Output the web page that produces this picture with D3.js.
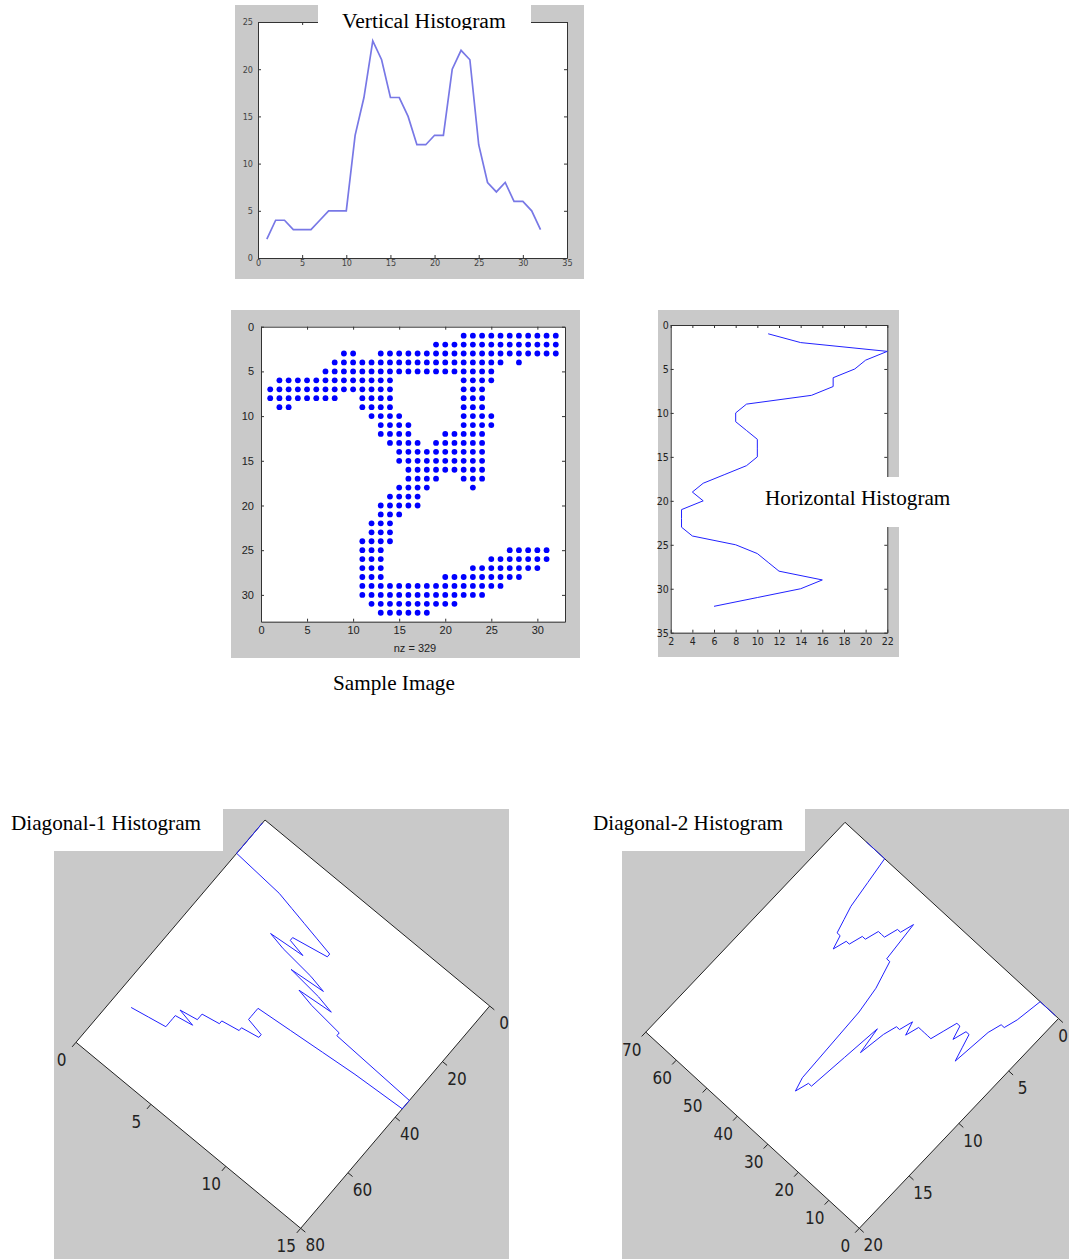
<!DOCTYPE html>
<html>
<head>
<meta charset="utf-8">
<script src="https://cdn.jsdelivr.net/npm/d3@7"></script>
<style>
body { margin: 0; background: #fff; }
svg { display: block; }
</style>
</head>
<body>
<script>
// column sums of the sample image (x = 1..32)
var vertHist = [2,4,4,3,3,3,4,5,5,5,13,17,23,21,17,17,15,12,12,13,13,20,22,21,12,8,7,8,6,6,5,3]
// row sums (y = 1..32)
var horizHist = [11,14,22,20,19,17,17,15,9,8,8,9,10,10,10,9,7,5,4,5,3,3,3,4,8,10,11,12,16,14,10,6]
// diagonal sums, index 1..63
var diag1Hist = [0,0,0,0,0,0,0,0,0,0,0,0,
  3,4,5,6,7,7,6,5,5,6, 4,5,7,8,6,8,9,7,8,10, 10,15,15,15,15,12,10,8,6,6,
  6,6,6,7,7,6,6,5,5,4, 4,4,3,4,3,3,3,3,3,2,1]
var diag2Hist = [0,0,0,0,0,0,
  2,3,3,4,7,6,5,5,6,5, 5,6,7,7,7,7,7,8,7,8, 8,9,11,9,12,15,15,16,15,9,
  7,6,5,5,2,3,3,4,4,4, 5,5,6,6,7,6,6,5,4,2,
  0,0,0,0,0,0,0]
// sample image: filled column runs for each row 1..32
var imgRuns = [
  [[22,32]],
  [[19,32]],
  [[9,10],[13,32]],
  [[8,26],[28,28]],
  [[7,25]],
  [[2,14],[22,25]],
  [[1,14],[22,24]],
  [[1,8],[11,14],[22,24]],
  [[2,3],[11,14],[22,24]],
  [[12,15],[22,25]],
  [[13,16],[22,25]],
  [[13,16],[20,24]],
  [[14,17],[19,24]],
  [[15,24]],
  [[15,24]],
  [[16,24]],
  [[16,19],[22,24]],
  [[15,18],[23,23]],
  [[14,17]],
  [[13,17]],
  [[13,15]],
  [[12,14]],
  [[12,14]],
  [[11,14]],
  [[11,13],[27,31]],
  [[11,13],[25,31]],
  [[11,13],[23,30]],
  [[11,13],[20,28]],
  [[11,26]],
  [[11,24]],
  [[12,21]],
  [[13,18]]
]
var nzCount = 329

var vertXTicks = [0,5,10,15,20,25,30,35]
var vertYTicks = [0,5,10,15,20,25]
var imgTicks = [0,5,10,15,20,25,30]
var horXTicks = [2,4,6,8,10,12,14,16,18,20,22]
var horYTicks = [0,5,10,15,20,25,30,35]
var d1IdxTicks = [0,20,40,60,80]
var d1ValTicks = [0,5,10,15]
var d2IdxTicks = [0,10,20,30,40,50,60,70]
var d2ValTicks = [0,5,10,15,20]

var grey = "#c9c9c9"
var serif = "'Liberation Serif','Times New Roman',serif"
var narrow = "'Liberation Sans Narrow','Arial Narrow','DejaVu Sans Condensed',sans-serif"

var svg = d3.select("body").append("svg")
  .attr("width", 1069)
  .attr("height", 1259)

// matlab-like boxed axes with inward ticks
function boxAxes(g, x, y, xt, yt, font, xpad, ypad) {
  var r = x.range(), t = y.range()
  g.append("rect").attr("x", r[0]).attr("y", Math.min(t[0], t[1]))
    .attr("width", r[1]-r[0]).attr("height", Math.abs(t[1]-t[0]))
    .style("fill", "white")
  var yb = Math.max(t[0], t[1]), yt0 = Math.min(t[0], t[1])
  var axes = [
    g.append("g").attr("transform", "translate(0," + yb + ")")
      .call(d3.axisBottom(x).tickValues(xt).tickSize(-3).tickSizeOuter(0).tickPadding(xpad)),
    g.append("g").attr("transform", "translate(0," + yt0 + ")")
      .call(d3.axisTop(x).tickValues(xt).tickSize(-3).tickSizeOuter(0).tickFormat("")),
    g.append("g").attr("transform", "translate(" + r[0] + ",0)")
      .call(d3.axisLeft(y).tickValues(yt).tickSize(-3).tickSizeOuter(0).tickPadding(ypad)),
    g.append("g").attr("transform", "translate(" + r[1] + ",0)")
      .call(d3.axisRight(y).tickValues(yt).tickSize(-3).tickSizeOuter(0).tickFormat(""))
  ]
  axes.forEach(function(a) {
    a.select(".domain").style("stroke", "#333")
    a.selectAll(".tick line").style("stroke", "#333")
    a.selectAll("text").style("font-family", font.family).style("font-size", font.size + "px")
      .style("fill", font.color)
  })
}

// ---- vertical histogram
svg.append("rect").attr("x", 235).attr("y", 5).attr("width", 349).attr("height", 274).style("fill", grey)
var x1 = d3.scaleLinear().domain([0,35]).range([258,567])
var y1 = d3.scaleLinear().domain([0,25]).range([258,22])
var p1 = svg.append("g")
boxAxes(p1, x1, y1, vertXTicks, vertYTicks, {family: narrow, size: 9, color: "#444"}, 2, 5)
p1.append("path")
  .datum(vertHist)
  .attr("d", d3.line().x(function(d, i) { return x1(i+1) }).y(function(d) { return y1(d) }))
  .style("fill", "none").style("stroke", "#7878e6").style("stroke-width", 1.7)
svg.append("defs").append("clipPath").attr("id", "vclip")
  .append("rect").attr("x", 318).attr("y", 5).attr("width", 213).attr("height", 25)
svg.append("rect").attr("x", 318).attr("y", 5).attr("width", 213).attr("height", 25).style("fill", "white")
svg.append("text").attr("x", 342).attr("y", 27.5).attr("clip-path", "url(#vclip)")
  .style("font-family", serif).style("font-size", "21.6px").text("Vertical Histogram")

// ---- sample image
svg.append("rect").attr("x", 231).attr("y", 310).attr("width", 349).attr("height", 348).style("fill", grey)
var x2 = d3.scaleLinear().domain([0,33]).range([261,565])
var y2 = d3.scaleLinear().domain([0,33]).range([326.7,621.7])
var p2 = svg.append("g")
boxAxes(p2, x2, y2, imgTicks, imgTicks, {family: "'Liberation Sans',Arial,sans-serif", size: 11, color: "#222"}, 5, 7)
var pix = []
imgRuns.forEach(function(row, r) {
  row.forEach(function(run) {
    for (var c = run[0]; c <= run[1]; c++) pix.push([c, r+1])
  })
})
p2.append("g").selectAll("circle")
  .data(pix)
  .enter()
  .append("circle")
  .attr("cx", function(d) { return x2(d[0]) })
  .attr("cy", function(d) { return y2(d[1]) })
  .attr("r", 2.9)
  .style("fill", "#0000ff")
svg.append("text").attr("x", (x2.range()[0]+x2.range()[1])/2 + 2).attr("y", 652)
  .attr("text-anchor", "middle")
  .style("font-family", "'Liberation Sans',Arial,sans-serif").style("font-size", "11px").style("fill", "#222")
  .text("nz = " + nzCount)
svg.append("text").attr("x", 333).attr("y", 690)
  .style("font-family", serif).style("font-size", "21.2px").text("Sample Image")

// ---- horizontal histogram
svg.append("rect").attr("x", 658).attr("y", 310).attr("width", 241).attr("height", 347).style("fill", grey)
var x3 = d3.scaleLinear().domain([2,22]).range([670.7,887.3])
var y3 = d3.scaleLinear().domain([0,35]).range([325,632.7])
var p3 = svg.append("g")
boxAxes(p3, x3, y3, horXTicks, horYTicks, {family: narrow, size: 10.5, color: "#222"}, 5, 2)
p3.append("path")
  .datum(horizHist)
  .attr("d", d3.line().x(function(d) { return x3(d) }).y(function(d, i) { return y3(i+1) }))
  .style("fill", "none").style("stroke", "#2222ff").style("stroke-width", 1)
svg.append("rect").attr("x", 760).attr("y", 477).attr("width", 198).attr("height", 50).style("fill", "white")
svg.append("text").attr("x", 765).attr("y", 505)
  .style("font-family", serif).style("font-size", "21.2px").text("Horizontal Histogram")

// ---- rotated diagonal plots
function diagPlot(cfg) {
  var g = svg.append("g")
  var si = d3.scaleLinear().domain(cfg.idxDom).range([0,1])
  var sv = d3.scaleLinear().domain(cfg.valDom).range([0,1])
  function proj(i, v) {
    var a = si(i), b = sv(v)
    return [cfg.o[0] + a*cfg.vi[0] + b*cfg.vv[0], cfg.o[1] + a*cfg.vi[1] + b*cfg.vv[1]]
  }
  function unit(v, s) {
    var l = Math.sqrt(v[0]*v[0] + v[1]*v[1])
    return [s*v[0]/l, s*v[1]/l]
  }
  var i0 = cfg.idxDom[0], i1 = cfg.idxDom[1], v0 = cfg.valDom[0], v1 = cfg.valDom[1]
  g.append("polygon")
    .attr("points", [proj(i0,v0), proj(i1,v0), proj(i1,v1), proj(i0,v1)].join(" "))
    .style("fill", "white").style("stroke", "#222").style("stroke-width", 1)

  var idxOut = unit(cfg.vv, 1), valOut = unit(cfg.vi, cfg.valOutSign)
  var tk = g.append("g")
  tk.selectAll(".it").data(cfg.idxTicks).enter().append("line")
    .attr("x1", function(d) { return proj(d, cfg.idxAxisAt)[0] })
    .attr("y1", function(d) { return proj(d, cfg.idxAxisAt)[1] })
    .attr("x2", function(d) { return proj(d, cfg.idxAxisAt)[0] + 6*idxOut[0] })
    .attr("y2", function(d) { return proj(d, cfg.idxAxisAt)[1] + 6*idxOut[1] })
    .style("stroke", "#222")
  tk.selectAll(".vt").data(cfg.valTicks).enter().append("line")
    .attr("x1", function(d) { return proj(cfg.valAxisAt, d)[0] })
    .attr("y1", function(d) { return proj(cfg.valAxisAt, d)[1] })
    .attr("x2", function(d) { return proj(cfg.valAxisAt, d)[0] + 6*valOut[0] })
    .attr("y2", function(d) { return proj(cfg.valAxisAt, d)[1] + 6*valOut[1] })
    .style("stroke", "#222")
  tk.selectAll(".il").data(cfg.idxTicks).enter().append("text")
    .attr("x", function(d) { return Math.min(proj(d, cfg.idxAxisAt)[0] + cfg.idxLab[0], cfg.maxX) })
    .attr("y", function(d) { return proj(d, cfg.idxAxisAt)[1] + cfg.idxLab[1] })
    .text(function(d) { return d })
  tk.selectAll(".vl").data(cfg.valTicks).enter().append("text")
    .attr("x", function(d) { return Math.min(proj(cfg.valAxisAt, d)[0] + cfg.valLab[0], cfg.maxX) })
    .attr("y", function(d) { return proj(cfg.valAxisAt, d)[1] + cfg.valLab[1] })
    .text(function(d) { return d })
  tk.selectAll("text")
    .attr("text-anchor", "middle").attr("dy", "0.36em")
    .style("font-family", narrow).style("font-size", "17px").style("fill", "#222")

  g.append("path")
    .datum(cfg.data)
    .attr("d", d3.line()
      .x(function(d, k) { return proj(k+1, d)[0] })
      .y(function(d, k) { return proj(k+1, d)[1] }))
    .style("fill", "none").style("stroke", "#2020ff").style("stroke-width", 1)
}

// diagonal-1
svg.append("rect").attr("x", 54).attr("y", 809).attr("width", 455).attr("height", 450).style("fill", grey)
diagPlot({
  o: [265,820], vi: [-189,222.3], vv: [224.7,186],
  idxDom: [0,80], valDom: [0,15],
  idxTicks: d1IdxTicks, valTicks: d1ValTicks,
  idxAxisAt: 15, valAxisAt: 80, valOutSign: 1,
  idxLab: [14.5,17], valLab: [-14.5,18], maxX: 1063,
  data: diag1Hist
})
svg.append("rect").attr("x", 0).attr("y", 805).attr("width", 223).attr("height", 46).style("fill", "white")
svg.append("text").attr("x", 11).attr("y", 830)
  .style("font-family", serif).style("font-size", "21.2px").text("Diagonal-1 Histogram")

// diagonal-2
svg.append("rect").attr("x", 622).attr("y", 809).attr("width", 447).attr("height", 450).style("fill", grey)
diagPlot({
  o: [1058.5,1018.5], vi: [-213.5,-196.2], vv: [-199.2,209.8],
  idxDom: [0,70], valDom: [0,20],
  idxTicks: d2IdxTicks, valTicks: d2ValTicks,
  idxAxisAt: 20, valAxisAt: 0, valOutSign: -1,
  idxLab: [-14,17.5], valLab: [14,17], maxX: 1063,
  data: diag2Hist
})
svg.append("rect").attr("x", 590).attr("y", 805).attr("width", 215).attr("height", 46).style("fill", "white")
svg.append("text").attr("x", 593).attr("y", 830)
  .style("font-family", serif).style("font-size", "21.2px").text("Diagonal-2 Histogram")
</script>
</body>
</html>
